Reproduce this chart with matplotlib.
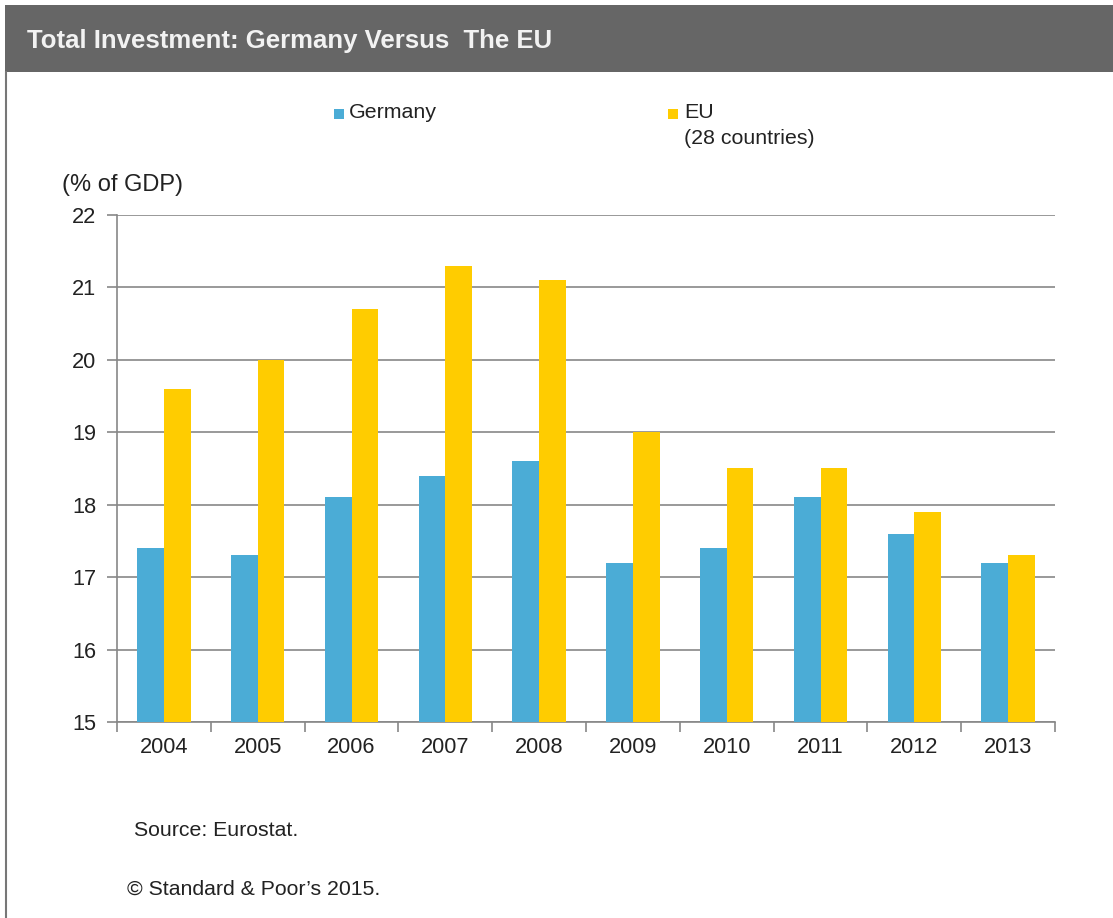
import matplotlib.pyplot as plt
import numpy as np
from matplotlib.patches import Rectangle
from matplotlib.lines import Line2D

years = ['2004', '2005', '2006', '2007', '2008', '2009', '2010', '2011', '2012', '2013']
germany = [17.4, 17.3, 18.1, 18.4, 18.6, 17.2, 17.4, 18.1, 17.6, 17.2]
eu = [19.6, 20.0, 20.7, 21.3, 21.1, 19.0, 18.5, 18.5, 17.9, 17.3]

blue = '#4bacd6'
gold = '#ffcc00'
grid = '#878787'
ink = '#222222'

plt.rcParams['font.family'] = ['Liberation Sans', 'DejaVu Sans']

W, H = 1113, 918
fig = plt.figure(figsize=(W / 100, H / 100), dpi=100)


def fx(px):
    return px / W


def fy(py):
    return 1 - py / H


# header band and left frame line
fig.patches.append(Rectangle((fx(5), fy(72)), fx(1113 - 5), 67 / H,
                             transform=fig.transFigure, facecolor='#666666',
                             edgecolor='none'))
fig.lines.append(Line2D([fx(6), fx(6)], [fy(72), 0], transform=fig.transFigure,
                        color='#777777', lw=1.5))
fig.text(fx(27), fy(41), 'Total Investment: Germany Versus  The EU', color='#f2f2f2',
         fontsize=18.5, fontweight='bold', va='center', ha='left')

ax = fig.add_axes([fx(117), fy(722), fx(1055 - 117), (722 - 215) / H])

x = np.arange(len(years))
bw = 0.285
ax.bar(x - bw / 2, np.array(germany) - 15, bw, bottom=15, color=blue, zorder=3)
ax.bar(x + bw / 2, np.array(eu) - 15, bw, bottom=15, color=gold, zorder=3)

ax.set_xlim(-0.5, len(years) - 0.5)
ax.set_ylim(15, 22)
ax.set_yticks(range(15, 23))
ax.yaxis.grid(True, color=grid, lw=1.2, zorder=0)
ax.set_xticks(x)
ax.set_xticklabels(years)
ax.set_xticks(np.arange(-0.5, len(years)), minor=True)
ax.tick_params(axis='x', which='major', length=0, pad=11, labelsize=15.7, labelcolor=ink)
ax.tick_params(axis='x', which='minor', length=7, width=1.2, color=grid)
ax.tick_params(axis='y', length=7, width=1.2, color=grid, pad=8, labelsize=15.7,
               labelcolor=ink)
for s in ['top', 'right']:
    ax.spines[s].set_visible(False)
for s in ['left', 'bottom']:
    ax.spines[s].set_color(grid)
    ax.spines[s].set_linewidth(1.2)

# legend
fig.patches.append(Rectangle((fx(334), fy(119)), fx(10), 10 / H, transform=fig.transFigure,
                             facecolor=blue, edgecolor='none'))
fig.text(fx(349), fy(113), 'Germany', fontsize=15.4, color=ink, va='center')
fig.patches.append(Rectangle((fx(668), fy(119)), fx(10), 10 / H, transform=fig.transFigure,
                             facecolor=gold, edgecolor='none'))
fig.text(fx(684), fy(113), 'EU', fontsize=15.4, color=ink, va='center')
fig.text(fx(684), fy(138), '(28 countries)', fontsize=15.4, color=ink, va='center')

fig.text(fx(62), fy(185), '(% of GDP)', fontsize=17, color=ink, va='center')
fig.text(fx(134), fy(831), 'Source: Eurostat.', fontsize=15.3, color=ink, va='center')
fig.text(fx(127), fy(889), '\u00a9 Standard & Poor\u2019s 2015.', fontsize=15.3,
         color=ink, va='center')

fig.savefig('out.png', dpi=100)
